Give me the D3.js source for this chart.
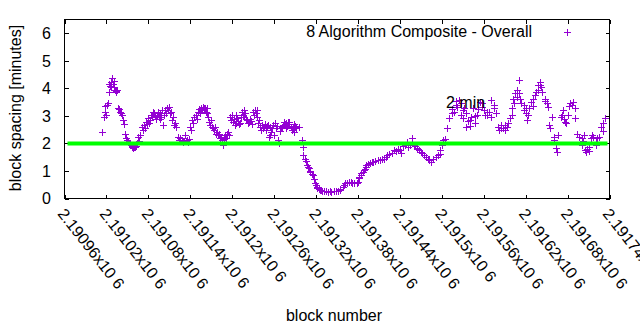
<!DOCTYPE html>
<html>
<head>
<meta charset="utf-8">
<script src="https://cdn.jsdelivr.net/npm/d3@7/dist/d3.min.js"></script>
<style>
  body { margin: 0; background: #fff; }
  text { font-family: "Liberation Sans", Arial, sans-serif; font-size: 16px; fill: #000; }
</style>
</head>
<body>
<div id="chart"></div>
<script>

// block numbers and block spacing (minutes)
var blocks = [
  2191014, 2191017, 2191018, 2191020, 2191021, 2191022, 2191024, 2191025, 2191027, 2191028,
  2191030, 2191031, 2191032, 2191034, 2191035, 2191037, 2191038, 2191040, 2191041, 2191042,
  2191044, 2191045, 2191047, 2191048, 2191050, 2191051, 2191052, 2191054, 2191055, 2191057,
  2191058, 2191060, 2191061, 2191062, 2191064, 2191065, 2191067, 2191068, 2191071, 2191072,
  2191074, 2191077, 2191078, 2191080, 2191082, 2191084, 2191085, 2191088, 2191090, 2191092,
  2191094, 2191095, 2191097, 2191098, 2191100, 2191101, 2191102, 2191105, 2191107, 2191108,
  2191110, 2191111, 2191114, 2191115, 2191117, 2191118, 2191120, 2191122, 2191124, 2191125,
  2191128, 2191130, 2191131, 2191132, 2191134, 2191135, 2191137, 2191138, 2191140, 2191141,
  2191142, 2191144, 2191145, 2191148, 2191150, 2191151, 2191154, 2191155, 2191157, 2191158,
  2191160, 2191161, 2191162, 2191164, 2191165, 2191167, 2191168, 2191170, 2191171, 2191172,
  2191174, 2191175, 2191177, 2191178, 2191180, 2191181, 2191182, 2191184, 2191185, 2191187,
  2191188, 2191190, 2191191, 2191192, 2191194, 2191195, 2191197, 2191198, 2191200, 2191201,
  2191202, 2191204, 2191205, 2191207, 2191208, 2191210, 2191211, 2191212, 2191214, 2191215,
  2191217, 2191218, 2191220, 2191221, 2191222, 2191224, 2191225, 2191227, 2191230, 2191231,
  2191232, 2191234, 2191235, 2191237, 2191238, 2191240, 2191241, 2191242, 2191244, 2191245,
  2191247, 2191248, 2191250, 2191251, 2191252, 2191254, 2191255, 2191257, 2191258, 2191260,
  2191261, 2191262, 2191264, 2191265, 2191267, 2191268, 2191270, 2191271, 2191272, 2191274,
  2191275, 2191277, 2191278, 2191280, 2191281, 2191282, 2191284, 2191285, 2191287, 2191288,
  2191290, 2191291, 2191292, 2191295, 2191300, 2191301, 2191302, 2191304, 2191305, 2191307,
  2191308, 2191310, 2191311, 2191312, 2191314, 2191315, 2191317, 2191318, 2191320, 2191321,
  2191322, 2191324, 2191325, 2191327, 2191328, 2191331, 2191334, 2191337, 2191340, 2191342,
  2191345, 2191348, 2191351, 2191354, 2191355, 2191358, 2191360, 2191361, 2191364, 2191367,
  2191370, 2191372, 2191375, 2191378, 2191380, 2191381, 2191382, 2191384, 2191385, 2191387,
  2191388, 2191390, 2191391, 2191392, 2191394, 2191397, 2191400, 2191402, 2191405, 2191408,
  2191411, 2191414, 2191417, 2191420, 2191422, 2191425, 2191428, 2191431, 2191434, 2191437,
  2191440, 2191441, 2191444, 2191447, 2191450, 2191451, 2191454, 2191457, 2191458, 2191460,
  2191462, 2191464, 2191465, 2191468, 2191470, 2191471, 2191474, 2191477, 2191480, 2191481,
  2191482, 2191485, 2191488, 2191491, 2191494, 2191497, 2191498, 2191500, 2191502, 2191505,
  2191508, 2191511, 2191514, 2191517, 2191520, 2191522, 2191525, 2191527, 2191528, 2191531,
  2191532, 2191534, 2191537, 2191540, 2191542, 2191545, 2191548, 2191551, 2191554, 2191557,
  2191560, 2191562, 2191565, 2191568, 2191571, 2191574, 2191577, 2191580, 2191582, 2191585,
  2191588, 2191591, 2191594, 2191597, 2191600, 2191602, 2191605, 2191607, 2191610, 2191611,
  2191614, 2191617, 2191620, 2191621, 2191622, 2191625, 2191628, 2191631, 2191634, 2191637,
  2191638, 2191640, 2191641, 2191644, 2191647, 2191650, 2191652, 2191654, 2191655, 2191657,
  2191660, 2191661, 2191664, 2191665, 2191667, 2191671, 2191674, 2191677, 2191678, 2191681,
  2191684, 2191687, 2191690, 2191691, 2191694, 2191697, 2191700, 2191701, 2191704, 2191705,
  2191707, 2191710, 2191711, 2191714, 2191717, 2191720, 2191722, 2191725, 2191728, 2191731,
  2191734,
  // second pass, scattered points in the dense clusters
  2191018, 2191024, 2191027, 2191031, 2191034, 2191075, 2191081, 2191087, 2191091, 2191104,
  2191112, 2191097, 2191152, 2191164, 2191205, 2191217, 2191228, 2191235, 2191254, 2191277,
  2191288, 2191515, 2191521, 2191530, 2191535, 2191541, 2191547, 2191552, 2191558, 2191564,
  2191570, 2191575, 2191584, 2191590, 2191595, 2191601, 2191604, 2191608, 2191612, 2191618,
  2191624, 2191630, 2191635, 2191642, 2191648, 2191672, 2191675, 2191682, 2191688, 2191702,
  2191708, 2191715, 2191721, 2191730
];

var spacing = [
  2.40, 2.97, 3.15, 3.05, 3.39, 3.46, 3.85, 4.10, 4.24, 4.36,
  4.15, 4.05, 3.94, 3.90, 3.94, 3.30, 3.25, 3.15, 3.10, 3.03,
  2.85, 2.69, 2.36, 2.20, 2.12, 2.05, 2.02, 1.98, 1.94, 1.88,
  1.84, 1.86, 1.88, 1.92, 2.00, 2.24, 2.10, 2.30, 2.60, 2.50,
  2.67, 2.79, 2.70, 2.91, 2.85, 3.03, 2.95, 3.09, 3.00, 3.03,
  3.15, 2.97, 2.90, 2.97, 3.21, 2.66, 3.05, 3.10, 3.27, 3.20,
  3.33, 3.10, 2.85, 2.95, 2.67, 2.75, 2.60, 2.24, 2.12, 2.18,
  2.12, 2.06, 2.10, 2.30, 2.08, 2.12, 2.06, 2.15, 2.60, 2.50,
  2.85, 2.75, 2.97, 3.03, 2.90, 3.15, 3.10, 3.27, 3.20, 3.33,
  3.30, 3.27, 3.15, 3.09, 2.95, 2.79, 2.67, 2.85, 2.60, 2.55,
  2.48, 2.60, 2.36, 2.42, 2.30, 2.35, 2.18, 2.25, 2.12, 1.94,
  2.15, 2.30, 2.20, 2.36, 2.40, 2.30, 2.97, 2.85, 3.03, 2.79,
  2.90, 2.67, 2.75, 2.91, 2.80, 2.70, 2.73, 2.95, 3.15, 3.05,
  3.21, 3.10, 2.90, 2.85, 2.75, 2.79, 2.90, 2.80, 3.15, 3.05,
  3.21, 3.10, 2.95, 2.73, 2.85, 2.60, 2.48, 2.67, 2.55, 2.60,
  2.70, 2.48, 2.62, 2.67, 2.24, 2.30, 2.40, 2.55, 2.67, 2.30,
  2.73, 2.55, 2.62, 2.12, 2.00, 2.45, 2.55, 2.60, 2.68, 2.79,
  2.70, 2.75, 2.65, 2.79, 2.72, 2.79, 2.60, 2.48, 2.55, 2.42,
  2.65, 2.55, 2.60, 2.60, 2.12, 1.88, 1.57, 1.45, 1.35, 1.21,
  1.15, 1.09, 1.00, 0.97, 0.90, 0.85, 0.70, 0.55, 0.48, 0.42,
  0.38, 0.34, 0.32, 0.30, 0.28, 0.27, 0.26, 0.25, 0.26, 0.25,
  0.27, 0.26, 0.28, 0.30, 0.36, 0.42, 0.48, 0.55, 0.58, 0.60,
  0.60, 0.58, 0.57, 0.55, 0.60, 0.73, 0.78, 0.85, 0.92, 0.97,
  1.03, 1.08, 1.15, 1.20, 1.27, 1.30, 1.33, 1.33, 1.36, 1.39,
  1.40, 1.42, 1.45, 1.52, 1.57, 1.62, 1.67, 1.76, 1.72, 1.80,
  1.76, 1.67, 1.90, 1.94, 2.06, 1.88, 1.95, 2.18, 2.05, 1.94,
  1.90, 1.84, 1.80, 1.76, 1.70, 1.64, 1.57, 1.51, 1.45, 1.39,
  1.45, 1.33, 1.45, 1.51, 1.57, 1.60, 1.76, 1.94, 2.12, 2.16,
  2.55, 2.91, 3.09, 3.15, 3.39, 3.33, 3.57, 3.45, 3.03, 2.91,
  3.27, 2.60, 2.80, 2.85, 2.97, 3.27, 2.73, 3.03, 3.51, 3.33,
  3.20, 3.03, 3.03, 3.15, 3.57, 3.27, 3.10, 2.60, 2.48, 2.67,
  2.55, 2.67, 2.60, 2.91, 3.27, 3.63, 3.82, 3.94, 4.30, 3.82,
  3.45, 3.39, 3.09, 3.30, 2.85, 3.27, 3.51, 3.63, 3.76, 3.94,
  4.12, 4.24, 4.12, 3.88, 3.63, 3.45, 3.33, 2.67, 2.55, 2.97,
  2.24, 2.12, 1.82, 1.70, 2.30, 2.97, 3.21, 2.79, 2.73, 3.03,
  3.45, 3.39, 3.30, 2.91, 2.36, 2.24, 2.20, 1.94, 2.30, 1.76,
  1.70, 1.88, 1.72, 2.18, 2.24, 1.94, 2.20, 2.25, 2.60, 2.73,
  2.91,
  // second pass
  3.35, 4.15, 4.05, 4.28, 3.85, 2.55, 2.75, 3.15, 2.90, 3.20,
  3.15, 3.10, 3.25, 3.30, 3.05, 2.95, 2.70, 3.20, 2.60, 2.55,
  2.70, 3.25, 3.55, 3.20, 3.10, 2.65, 3.00, 3.25, 3.45, 3.15,
  2.95, 3.40, 2.55, 2.50, 2.75, 3.05, 3.45, 3.70, 3.60, 3.20,
  3.05, 3.35, 3.85, 4.05, 3.55, 3.05, 2.90, 3.35, 3.50, 2.10,
  1.80, 2.30, 2.05, 2.45
];

var xTicks = [2190960, 2191020, 2191080, 2191140, 2191200, 2191260, 2191320,
              2191380, 2191440, 2191500, 2191560, 2191620, 2191680, 2191740];
var xTickLabels = ["2.19096x10 6", "2.19102x10 6", "2.19108x10 6", "2.19114x10 6",
                   "2.1912x10 6", "2.19126x10 6", "2.19132x10 6", "2.19138x10 6",
                   "2.19144x10 6", "2.1915x10 6", "2.19156x10 6", "2.19162x10 6",
                   "2.19168x10 6", "2.19174x10 6"];
var yTicks = [0, 1, 2, 3, 4, 5, 6];
var targetSpacing = 2;   // 2 minute reference line
var seriesName = "8 Algorithm Composite - Overall";

var width = 640, height = 330;
var margin = {top: 19.5, right: 30.5, bottom: 131.5, left: 64.5};
var purple = "#9400d3";

var svg = d3.select("#chart").append("svg")
    .attr("width", width)
    .attr("height", height);

var x = d3.scaleLinear()
    .domain([2190960, 2191740])
    .range([margin.left, width - margin.right]);

var y = d3.scaleLinear()
    .domain([0, 6.5])
    .range([height - margin.bottom, margin.top]);

var x0 = x.range()[0], x1 = x.range()[1];
var y0 = y.range()[0], y1 = y.range()[1];

// ticks on all four sides, pointing inward
var tickLen = 4;
var xAxisBottom = d3.axisBottom(x).tickValues(xTicks).tickSize(-tickLen).tickFormat("");
var xAxisTop = d3.axisTop(x).tickValues(xTicks).tickSize(-tickLen).tickFormat("");
var yAxisLeft = d3.axisLeft(y).tickValues(yTicks).tickSize(-tickLen).tickFormat("");
var yAxisRight = d3.axisRight(y).tickValues(yTicks).tickSize(-tickLen).tickFormat("");

function styleAxis(g) {
    g.select(".domain").remove();
    g.selectAll("line").attr("stroke", "#000").attr("shape-rendering", "crispEdges");
}

svg.append("g").attr("transform", "translate(0," + y0 + ")").call(xAxisBottom).call(styleAxis);
svg.append("g").attr("transform", "translate(0," + y1 + ")").call(xAxisTop).call(styleAxis);
svg.append("g").attr("transform", "translate(" + x0 + ",0)").call(yAxisLeft).call(styleAxis);
svg.append("g").attr("transform", "translate(" + x1 + ",0)").call(yAxisRight).call(styleAxis);

// y tick labels
svg.selectAll(".ylab")
    .data(yTicks)
    .enter().append("text")
    .attr("class", "ylab")
    .attr("x", 51)
    .attr("y", function(d) { return y(d); })
    .attr("dy", "0.36em")
    .attr("text-anchor", "end")
    .text(function(d) { return d; });

// x tick labels, rotated
svg.selectAll(".xlab")
    .data(xTicks)
    .enter().append("text")
    .attr("class", "xlab")
    .attr("transform", function(d) { return "translate(" + (x(d) - 3) + "," + (y0 + 12) + ") rotate(52)"; })
    .attr("dy", "0.35em")
    .attr("text-anchor", "start")
    .text(function(d, i) { return xTickLabels[i]; });

// data points as "+" markers
var pts = blocks.map(function(b, i) { return {b: b, v: spacing[i]}; });
var arm = 3.5;

function plus(g) {
    g.append("line").attr("x1", -arm).attr("x2", arm).attr("y1", 0).attr("y2", 0);
    g.append("line").attr("x1", 0).attr("x2", 0).attr("y1", -arm).attr("y2", arm);
}

var marks = svg.append("g")
    .attr("stroke", purple)
    .attr("stroke-width", 1)
    .attr("shape-rendering", "crispEdges");

marks.selectAll("g")
    .data(pts)
    .enter().append("g")
    .attr("transform", function(d) { return "translate(" + Math.round(x(d.b)) + "," + Math.round(y(d.v)) + ")"; })
    .each(function() { plus(d3.select(this)); });

// 2 minute reference line
svg.append("line")
    .attr("x1", x0 + 3).attr("x2", x1 - 2)
    .attr("y1", y(targetSpacing)).attr("y2", y(targetSpacing))
    .attr("stroke", "#00ff00")
    .attr("stroke-width", 4);

svg.append("text")
    .attr("x", 446)
    .attr("y", 107.5)
    .text("2 min");

// legend
svg.append("text")
    .attr("x", 532)
    .attr("y", 37)
    .attr("text-anchor", "end")
    .text(seriesName);

var legendMark = svg.append("g")
    .attr("stroke", purple)
    .attr("stroke-width", 1)
    .attr("shape-rendering", "crispEdges")
    .attr("transform", "translate(567,32)");
plus(legendMark);

// border
svg.append("rect")
    .attr("x", x0).attr("y", y1)
    .attr("width", x1 - x0).attr("height", y0 - y1)
    .attr("fill", "none")
    .attr("stroke", "#000")
    .attr("shape-rendering", "crispEdges");

// axis titles
svg.append("text")
    .attr("transform", "translate(21,108) rotate(-90)")
    .attr("text-anchor", "middle")
    .text("block spacing [minutes]");

svg.append("text")
    .attr("x", 334)
    .attr("y", 321)
    .attr("text-anchor", "middle")
    .text("block number");

</script>
</body>
</html>
